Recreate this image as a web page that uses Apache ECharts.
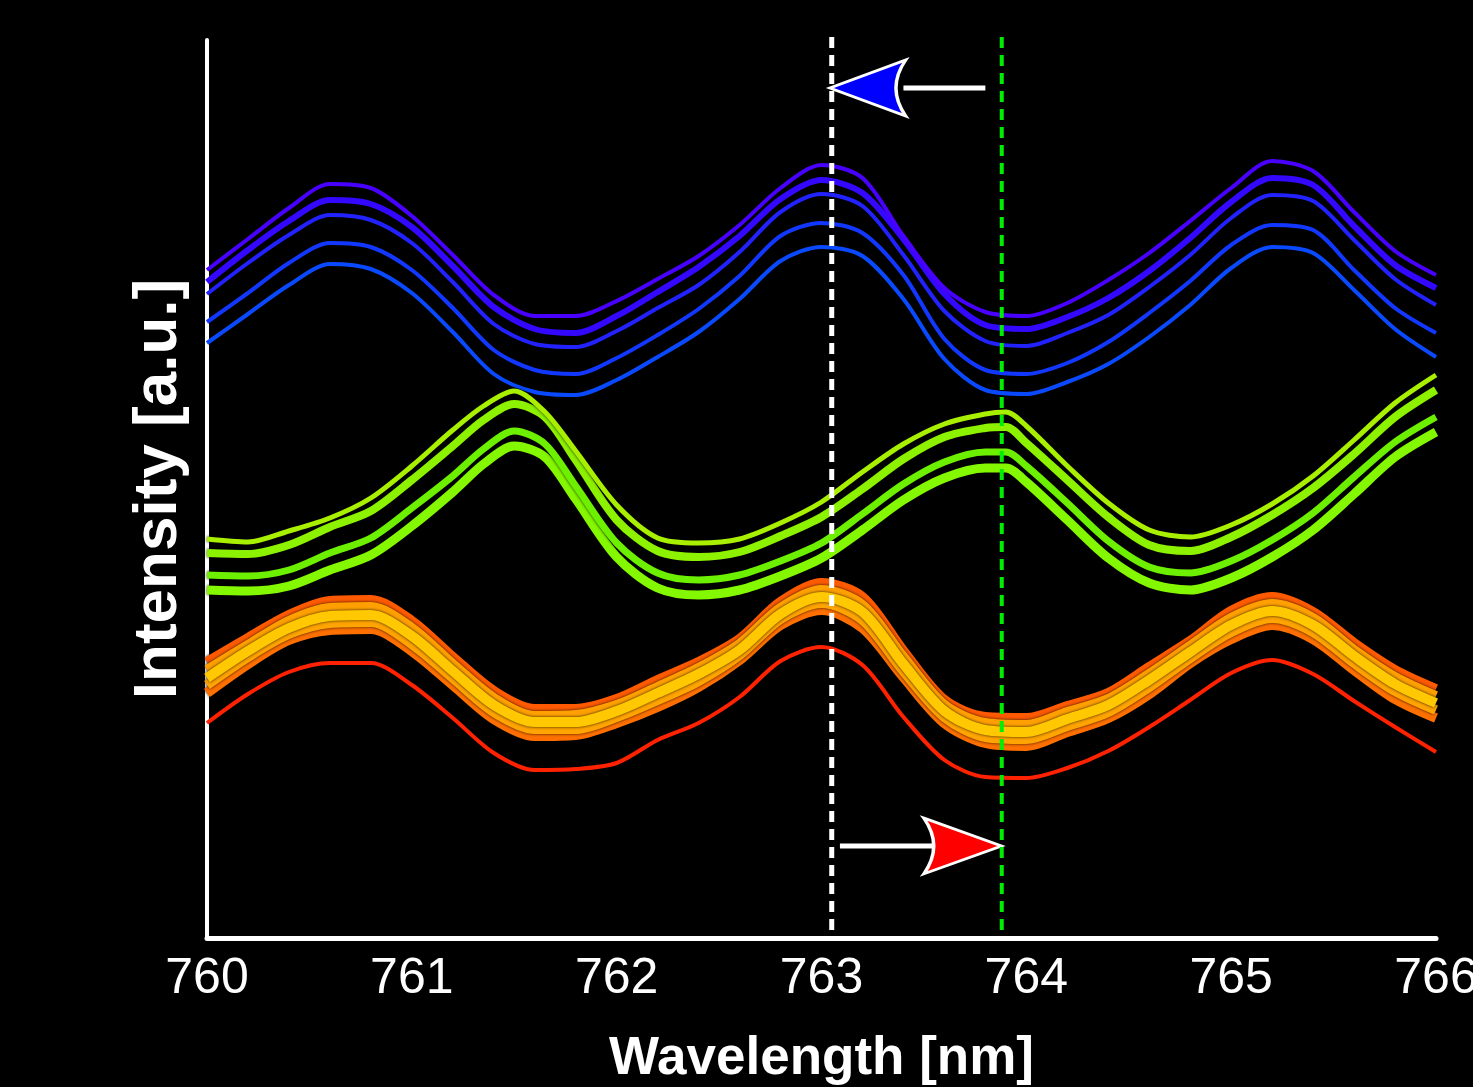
<!DOCTYPE html>
<html>
<head>
<meta charset="utf-8">
<script src="https://cdn.jsdelivr.net/npm/echarts@6/dist/echarts.min.js"></script>
<style type="text/css">
html, body {margin: 0; padding: 0; background: #000;}
#main {width: 1473px; height: 1087px;}
</style>
</head>
<body>
<div id="main"></div>
<script>
// wavelength grids (nm)
var gridX = [760,760.2,760.4,760.6,760.8,761,761.2,761.4,761.6,761.8,762,762.2,762.4,762.6,762.8,763,
             763.2,763.4,763.6,763.8,764,764.2,764.4,764.6,764.8,765,765.2,765.4,765.6,765.8,766];
var greenX = [760,760.2,760.4,760.6,760.8,761,761.2,761.35,761.5,761.65,761.8,762,762.2,762.4,762.6,762.8,
              763,763.2,763.4,763.6,763.8,763.9,764,764.2,764.4,764.6,764.8,765,765.2,765.4,765.6,765.8,766];
var xTicks = [760, 761, 762, 763, 764, 765, 766];

// blue traces (a.u.)
var blue1 = [668,699,730,754,750,722,683,643,622,622,637,659,682,713,750,773,760,702,650,626,622,635,658,685,717,750,777,767,726,687,663];
var blue2 = [656,688,717,738,734,711,672,631,609,605,622,646,671,702,739,758,745,699,644,613,609,621,640,667,700,736,760,753,712,673,650];
var blue3 = [644,675,703,723,718,695,656,614,594,591,607,630,653,686,726,744,732,683,627,597,592,605,623,651,683,720,743,737,698,659,633];
var blue4 = [616,645,675,695,691,668,630,588,568,564,580,603,629,662,702,715,705,663,599,568,564,575,596,625,657,693,713,708,668,630,605];
var blue5 = [595,624,653,674,669,645,606,564,546,543,558,581,606,639,677,691,682,639,579,548,544,556,574,601,633,670,691,685,648,609,581];

// green traces
var green1 = [399,396,407,420,440,472,508,532,547,526,487,433,400,395,399,415,436,466,494,514,524,526,512,472,435,408,401,413,434,462,498,535,563];
var green2 = [385,384,393,411,427,458,492,518,534,521,478,418,387,381,386,402,421,449,479,501,510,511,495,458,421,393,387,401,423,450,484,521,548];
var green3 = [363,362,368,385,400,430,462,489,507,494,452,395,365,358,363,377,395,424,454,476,486,486,472,435,397,371,365,377,398,425,461,496,521];
var green4 = [348,347,352,368,383,412,446,474,492,481,439,381,350,343,348,362,380,408,438,460,470,470,456,418,380,355,348,360,381,408,444,481,506];

// orange bundle + red trace
var orange1 = [276,300,323,337,338,317,281,247,229,229,239,258,276,299,336,355,341,287,238,221,220,232,245,271,297,327,341,326,295,268,249];
var orange2 = [268,293,317,330,331,310,274,240,222,223,233,251,270,294,330,348,333,281,233,215,213,226,239,264,292,320,334,320,288,261,242];
var orange3 = [260,287,310,322,323,302,267,233,216,216,227,245,264,288,324,341,326,274,227,208,206,219,233,258,286,313,327,313,282,254,235];
var orange4 = [253,281,304,315,316,294,260,226,209,209,221,238,257,283,319,335,318,267,221,201,199,212,226,251,280,306,320,306,275,247,228];
var orange5 = [245,274,298,308,309,287,253,219,202,203,215,231,251,278,313,328,310,261,215,195,192,206,220,244,275,299,313,299,268,239,220];
var red1 = [215,244,266,275,275,253,220,185,168,169,175,198,215,241,277,291,273,221,178,161,160,170,187,211,238,265,278,264,237,211,186];

// markers: peak positions and shift arrows
var whiteLineX = 763.05;
var greenLineX = 763.88;
var blueArrow = {tip: [763.04, 850], tail: [763.8, 850]};
var redArrow = {tip: [763.88, 92], tail: [763.09, 92]};

function pairs(xs, ys){
    return ys.map(function(v, i){ return [xs[i], v]; });
}

function trace(xs, ys, color, width, shadow){
    var ls = {color: color, width: width};
    if (shadow) { ls.shadowColor = 'rgba(0,0,0,0.85)'; ls.shadowBlur = 3; }
    return {
        type: 'line', data: pairs(xs, ys), showSymbol: false, smooth: 0.3,
        lineStyle: ls, itemStyle: {color: color}, silent: true
    };
}

function vline(x, color, width){
    return {
        type: 'line', clip: false, showSymbol: false, silent: true,
        data: [[x, 8], [x, 908]],
        lineStyle: {color: color, width: width, type: [11, 7]}
    };
}

var headRight = 'path://M0,0 L78,28 L0,56 Q20,28 0,0 Z';
var headLeft = 'path://M78,0 L0,28 L78,56 Q58,28 78,0 Z';
var labelFont = "'Liberation Sans', Arial, sans-serif";

var series = [
    trace(gridX, blue5, '#0a4aff', 4),
    trace(gridX, blue4, '#1238ff', 4),
    trace(gridX, blue3, '#2222ff', 4),
    trace(gridX, blue2, '#3408ff', 6),
    trace(gridX, blue1, '#4800ff', 4),

    trace(greenX, green4, '#84f800', 9, true),
    trace(greenX, green3, '#6cf000', 7, true),
    trace(greenX, green2, '#8cf200', 8, true),
    trace(greenX, green1, '#a8f000', 5, true),

    trace(gridX, red1, '#ff2200', 4),
    trace(gridX, orange5, '#ff7000', 10, true),
    trace(gridX, orange1, '#ff5a00', 10, true),
    trace(gridX, orange4, '#ffa400', 10, true),
    trace(gridX, orange2, '#ffa000', 10, true),
    trace(gridX, orange3, '#ffc800', 10, true),

    vline(whiteLineX, '#ffffff', 5),
    vline(greenLineX, '#00ee00', 4),

    {type: 'line', clip: false, showSymbol: false, silent: true,
     data: [blueArrow.tail, [763.4, 850]], lineStyle: {color: '#fff', width: 5}},
    {type: 'line', clip: false, showSymbol: false, silent: true,
     data: [redArrow.tail, [763.55, 92]], lineStyle: {color: '#fff', width: 5}},
    {type: 'scatter', clip: false, silent: true, data: [blueArrow.tip],
     symbol: headLeft, symbolSize: [76, 56], symbolOffset: [38, 0],
     itemStyle: {color: '#0000ff', borderColor: '#fff', borderWidth: 3, opacity: 1}},
    {type: 'scatter', clip: false, silent: true, data: [redArrow.tip],
     symbol: headRight, symbolSize: [78, 56], symbolOffset: [-39, 0],
     itemStyle: {color: '#ff0000', borderColor: '#fff', borderWidth: 3, opacity: 1}}
];

var myChart = echarts.init(document.getElementById('main'));
myChart.setOption({
    backgroundColor: '#000',
    animation: false,
    grid: {left: 207, right: 37, top: 40, bottom: 149, containLabel: false, outerBoundsMode: 'none'},
    xAxis: {
        type: 'value', min: 760, max: 766, interval: 1,
        name: 'Wavelength [nm]', nameLocation: 'middle', nameGap: 95,
        nameTextStyle: {color: '#fff', fontSize: 53, fontWeight: 'bold', fontFamily: labelFont},
        axisLine: {show: true, onZero: false, lineStyle: {color: '#fff', width: 5}},
        axisTick: {show: false},
        splitLine: {show: false},
        axisLabel: {color: '#fff', fontSize: 50, margin: 16, fontFamily: labelFont,
                    formatter: function(v){ return xTicks.indexOf(v) >= 0 ? String(v) : ''; }}
    },
    yAxis: {
        type: 'value', min: 0, max: 898,
        name: 'Intensity [a.u.]', nameLocation: 'middle', nameGap: 17,
        nameTextStyle: {color: '#fff', fontSize: 62, fontWeight: 'bold', fontFamily: labelFont},
        axisLine: {show: true, onZero: false, lineStyle: {color: '#fff', width: 4}},
        axisTick: {show: false},
        axisLabel: {show: false},
        splitLine: {show: false}
    },
    series: series
});
</script>
</body>
</html>
